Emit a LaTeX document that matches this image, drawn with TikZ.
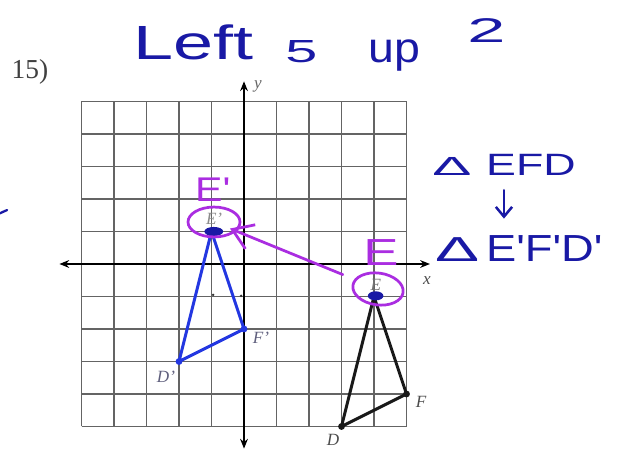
\documentclass[tikz,border=0pt]{standalone}
\usepackage{fontspec}
\setmainfont{Liberation Serif}
\newfontfamily\handfont{Liberation Sans}
\usepackage{graphicx}
\usetikzlibrary{arrows.meta, positioning, shapes.geometric, calc}

\definecolor{ink}{RGB}{25,25,165}
\definecolor{pen}{RGB}{170,45,225}
\definecolor{image}{RGB}{35,55,225}
\definecolor{gridgray}{RGB}{100,100,100}
\definecolor{labelgray}{RGB}{95,95,125}

\begin{document}
\begin{tikzpicture}[
    hand/.style={text=ink, inner sep=0pt, anchor=base west},
    penword/.style={text=pen, inner sep=0pt, anchor=base west},
    ring/.style={draw=pen, line width=2.4pt, ellipse, inner sep=0pt},
    lbl/.style={font=\fontsize{15}{15}\selectfont\itshape, text=labelgray,
                inner sep=0pt},
    edge/.style={line width=2.6pt, line join=round}
  ]
  \path[fill=white, use as bounding box] (-7.508,-5.815) rectangle (11.569,8.123);

  % grid and axes
  \draw[gridgray, line width=1.1pt] (-5,-5) grid (5,5);
  \coordinate (xl) at (-5.68,0);
  \coordinate (xr) at (5.72,0);
  \coordinate (yt) at (0,5.62);
  \coordinate (yb) at (0,-5.68);
  \draw[line width=1.2pt, {Stealth[length=3mm,width=2.4mm]}-{Stealth[length=3mm,width=2.4mm]}] (xl) -- (xr);
  \draw[line width=1.2pt, {Stealth[length=3mm,width=2.4mm]}-{Stealth[length=3mm,width=2.4mm]}] (yb) -- (yt);
  \node[font=\fontsize{15}{15}\selectfont\itshape, text=black!70] (xlab) at (5.63,-0.52) {x};
  \node[font=\fontsize{15}{15}\selectfont\itshape, text=black!60] (ylab) at (0.43,5.45) {y};

  \node[font=\fontsize{24}{24}\selectfont, text=black!75] (num) at (-6.585,5.908) {15)};

  % triangle EFD and its image
  \coordinate (E) at (4,-1);
  \coordinate (F) at (5,-4);
  \coordinate (D) at (3,-5);
  \coordinate (Ep) at (-1,1);
  \coordinate (Fp) at (0,-2);
  \coordinate (Dp) at (-2,-3);

  \draw[edge, black!90] (E) -- (F) -- (D) -- cycle;
  \draw[edge, image] (Ep) -- (Fp) -- (Dp) -- cycle;
  \fill[black!90] (F) circle (3pt) (D) circle (3pt);
  \fill[image] (Fp) circle (3pt) (Dp) circle (3pt);
  \fill[ink] (4.05,-0.98) ellipse (0.24 and 0.14);
  \fill[ink] (-0.93,1.0) ellipse (0.29 and 0.14);
  \fill[black!80] (-0.95,-0.95) circle (1.2pt) (-0.09,-0.98) circle (1.2pt);

  \node[lbl, text=black!45] (labEp) at (-0.92,1.39) {E'};
  \node[lbl, text=black!55] (labE) at (4.06,-0.65) {E};
  \node[lbl] (labFp) at (0.52,-2.28) {F'};
  \node[lbl] (labDp) at (-2.4,-3.48) {D'};
  \node[lbl, text=black!70] (labF) at (5.45,-4.25) {F};
  \node[lbl, text=black!70] (labD) at (2.74,-5.42) {D};

  % handwriting
  \node[hand, font=\handfont\fontsize{42}{42}\selectfont] (left) at (-3.415,6.277) {\scalebox{1.5}[1]{Left}};
  \node[hand, font=\handfont\fontsize{28}{28}\selectfont] (five) at (1.262,6.215) {\scalebox{1.8}[1]{5}};
  \node[hand, font=\handfont\fontsize{37}{37}\selectfont] (up) at (3.815,6.215) {\scalebox{1.1}[1]{up}};
  \node[hand, font=\handfont\fontsize{30}{30}\selectfont] (two) at (6.862,6.8) {\scalebox{2}[1]{2}};

  \node[hand, font=\handfont\fontsize{27}{27}\selectfont] (efd) at (5.785,2.738)
    {\scalebox{1.9}[0.85]{Δ}\hspace{13pt}\scalebox{1.45}[1]{EFD}};
  \node[hand, font=\handfont\fontsize{33}{33}\selectfont] (efdp) at (5.877,0.092)
    {\scalebox{1.75}[0.92]{Δ}\hspace{6pt}\scalebox{1.2}[1]{E'F'D'}};
  \draw[ink, line width=2.2pt, line cap=round, -{Straight Barb[length=3mm,width=5mm]},
        shorten <=0.46cm, shorten >=0.5cm] (efd.south) -- (efd.south |- efdp.north);

  \draw[ink, line width=2pt, line cap=round] (-7.6,1.52) -- (-7.29,1.66);

  % translation marks
  \node[penword, font=\handfont\fontsize{30}{30}\selectfont] (penEp) at (-1.508,1.908) {\scalebox{1.2}[1]{E'}};
  \node[penword, font=\handfont\fontsize{33}{33}\selectfont] (penE) at (3.662,-0.031) {\scalebox{1.4}[1]{E}};
  \node[ring, minimum width=1.6cm, minimum height=0.92cm] (ringEp) at (-0.923,1.292) {};
  \node[ring, minimum width=1.56cm, minimum height=0.98cm, rotate=-8] (ringE) at (4.123,-0.769) {};
  \draw[pen, line width=2.4pt, line cap=round, -{Straight Barb[length=6mm,width=8mm]},
        shorten <=0.38cm, shorten >=-0.22cm] (ringE) -- (ringEp);
\end{tikzpicture}
\end{document}
